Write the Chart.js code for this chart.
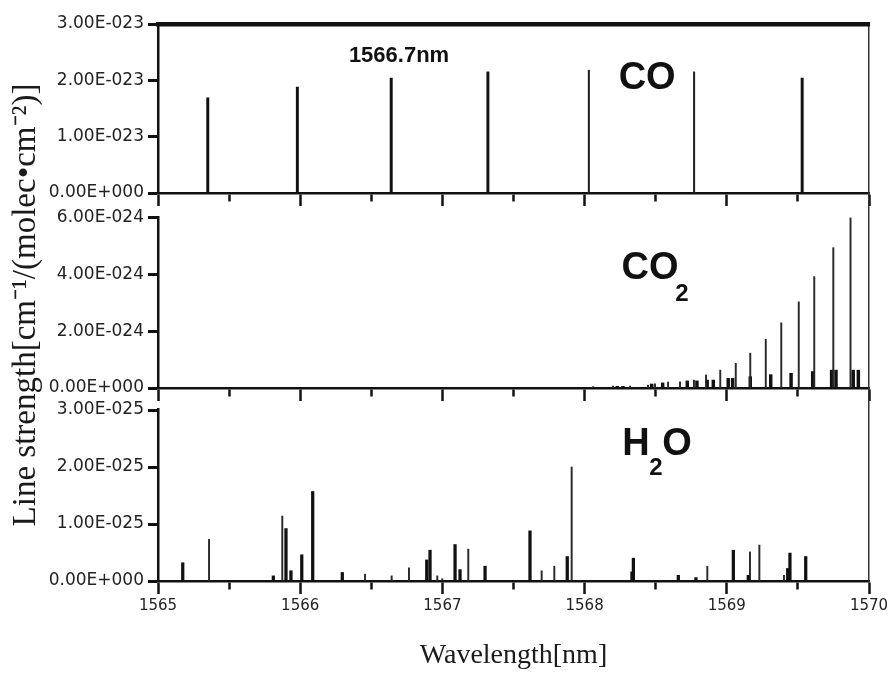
<!DOCTYPE html>
<html>
<head>
<meta charset="utf-8">
<script src="https://cdn.jsdelivr.net/npm/chart.js@4.4.1/dist/chart.umd.min.js"></script>
<style>
  body { margin: 0; background: #fff; }
  #wrap { position: relative; width: 892px; height: 673px; }
  #wrap canvas { position: absolute; left: 0; top: 0; }
</style>
</head>
<body>
<div id="wrap">
  <canvas id="coChart" width="892" height="673"></canvas>
  <canvas id="co2Chart" width="892" height="673"></canvas>
  <canvas id="h2oChart" width="892" height="673"></canvas>
</div>
<script>
// x axis ticks (nm), half steps are unlabeled minor ticks
const xTicks = [1565, 1565.5, 1566, 1566.5, 1567, 1567.5, 1568, 1568.5, 1569, 1569.5, 1570];
const coTicks = [0, 1e-23, 2e-23, 3e-23];
const co2Ticks = [0, 2e-24, 4e-24, 6e-24];
const h2oTicks = [0, 1e-25, 2e-25, 3e-25];

// CO lines
const coWavelength = [1565.35, 1565.98, 1566.64, 1567.32, 1569.53];
const coStrength = [1.69e-23, 1.88e-23, 2.04e-23, 2.15e-23, 2.04e-23];
const coWavelengthFine = [1568.03, 1568.77];
const coStrengthFine = [2.18e-23, 2.15e-23];

// CO2 lines: main progression + weak band lines
const co2Wavelength = [1568.06, 1568.20, 1568.32, 1568.446, 1568.495, 1568.587, 1568.671, 1568.769, 1568.854,
  1568.954, 1569.063, 1569.165, 1569.274, 1569.383, 1569.506, 1569.615, 1569.749, 1569.870];
const co2Strength = [0.05e-24, 0.07e-24, 0.07e-24, 0.10e-24, 0.15e-24, 0.21e-24, 0.22e-24, 0.28e-24, 0.46e-24,
  0.63e-24, 0.87e-24, 1.23e-24, 1.72e-24, 2.30e-24, 3.04e-24, 3.93e-24, 4.95e-24, 6.00e-24];
const co2WavelengthBand = [1568.23, 1568.27, 1568.472, 1568.549, 1568.722, 1568.79, 1568.862, 1568.905, 1569.010,
  1569.041, 1569.165, 1569.309, 1569.452, 1569.604, 1569.737, 1569.768, 1569.889, 1569.925];
const co2StrengthBand = [0.06e-24, 0.06e-24, 0.14e-24, 0.18e-24, 0.25e-24, 0.25e-24, 0.28e-24, 0.28e-24, 0.34e-24,
  0.34e-24, 0.40e-24, 0.47e-24, 0.52e-24, 0.58e-24, 0.63e-24, 0.63e-24, 0.63e-24, 0.63e-24];

// H2O lines
const h2oWavelength = [1565.174, 1565.811, 1565.900, 1565.935, 1566.011, 1566.088, 1566.296, 1566.890, 1566.913,
  1567.089, 1567.124, 1567.300, 1567.616, 1567.878, 1568.333, 1568.343, 1568.659, 1568.783, 1569.046, 1569.151,
  1569.428, 1569.444, 1569.555];
const h2oStrength = [0.32e-25, 0.09e-25, 0.92e-25, 0.18e-25, 0.46e-25, 1.57e-25, 0.15e-25, 0.37e-25, 0.54e-25,
  0.64e-25, 0.20e-25, 0.26e-25, 0.88e-25, 0.43e-25, 0.16e-25, 0.40e-25, 0.10e-25, 0.06e-25, 0.54e-25, 0.10e-25,
  0.22e-25, 0.49e-25, 0.43e-25];
const h2oWavelengthFine = [1565.359, 1565.874, 1566.456, 1566.643, 1566.765, 1566.964, 1566.999, 1567.182,
  1567.698, 1567.787, 1567.909, 1568.863, 1569.163, 1569.229, 1569.402];
const h2oStrengthFine = [0.73e-25, 1.14e-25, 0.12e-25, 0.09e-25, 0.23e-25, 0.09e-25, 0.04e-25, 0.56e-25,
  0.18e-25, 0.26e-25, 2.00e-25, 0.26e-25, 0.51e-25, 0.63e-25, 0.10e-25];

const yTickFont = { family: '"DejaVu Sans"', size: 17 };
const xTickFont = { family: '"DejaVu Sans"', size: 15 };

function sci(v) {
  const parts = Number(v).toExponential(2).split('e');
  const n = parseInt(parts[1], 10);
  return parts[0] + 'E' + (n < 0 ? '-' : '+') + String(Math.abs(n)).padStart(3, '0');
}

function lines(wl, s, thickness, color) {
  return {
    data: wl.map((w, i) => ({ x: w, y: s[i] })),
    barThickness: thickness,
    backgroundColor: color,
    borderWidth: 0,
    grouped: false
  };
}

// labels inside panels, y title, and trimming the left axis line above the top tick
const panelText = {
  id: 'panelText',
  afterDraw(chart, args, opts) {
    const ctx = chart.ctx;
    const x = chart.scales.x, y = chart.scales.y;
    ctx.save();
    if (opts.axisFrom != null) {
      const top = chart.chartArea.top;
      const yv = y.getPixelForValue(opts.axisFrom);
      ctx.clearRect(chart.chartArea.left - 3, top - 3, 6, yv - top + 1);
    }
    ctx.fillStyle = '#111';
    ctx.textAlign = 'center';
    ctx.textBaseline = 'middle';
    (opts.items || []).forEach(it => {
      ctx.font = it.font;
      ctx.fillText(it.text, x.getPixelForValue(it.x), y.getPixelForValue(it.y));
    });
    if (opts.yTitle) {
      ctx.translate(opts.yTitle.x, opts.yTitle.y);
      ctx.rotate(-Math.PI / 2);
      ctx.font = '33px "Liberation Serif"';
      ctx.fillStyle = '#1a1a1a';
      ctx.fillText(opts.yTitle.text, 0, 0);
    }
    ctx.restore();
  }
};

function xAxis(showLabels) {
  return {
    type: 'linear', position: 'bottom', min: 1565, max: 1570, offset: false,
    afterBuildTicks: a => { a.ticks = xTicks.map(v => ({ value: v })); },
    afterFit: a => { a.height = showLabels ? 92 : 14; },
    border: { color: '#111', width: 2.5 },
    grid: {
      offset: false, drawOnChartArea: false, drawTicks: true, tickLength: 13, tickWidth: 2.5, tickColor: '#111',
      tickBorderDash: c => (c.tick && !Number.isInteger(c.tick.value)) ? [7, 40] : []
    },
    ticks: {
      display: showLabels, autoSkip: false, maxRotation: 0, padding: 3, color: '#222', font: xTickFont,
      callback: v => Number.isInteger(v) ? String(v) : ''
    },
    title: {
      display: showLabels, text: 'Wavelength[nm]', color: '#1a1a1a',
      font: { family: '"Liberation Serif"', size: 28 }, padding: { top: 0, bottom: 1 }
    }
  };
}

function yAxis(max, tickList) {
  return {
    type: 'linear', position: 'left', min: 0, max: max,
    afterBuildTicks: a => { a.ticks = tickList.map(v => ({ value: v })); },
    afterFit: a => { a.width = 158; },
    border: { color: '#111', width: 2.5 },
    grid: { drawOnChartArea: false, tickLength: 10, tickWidth: 3, tickColor: '#111' },
    ticks: { padding: 4, color: '#222', font: yTickFont, callback: v => sci(v) }
  };
}

const rightEdge = {
  type: 'linear', position: 'right', min: 0, max: 1,
  afterFit: a => { a.width = 0; },
  border: { color: '#333', width: 1.5 },
  grid: { display: false },
  ticks: { display: false }
};

function panel(id, cfg) {
  const scales = { x: xAxis(cfg.showLabels), y: yAxis(cfg.max, cfg.ticks), yRight: rightEdge };
  if (cfg.frameTop) {
    scales.xTop = {
      type: 'linear', position: 'top', min: 1565, max: 1570,
      afterFit: a => { a.height = 0; },
      border: { color: '#111', width: 4.5 },
      grid: { display: false },
      ticks: { display: false }
    };
  }
  return new Chart(document.getElementById(id), {
    type: 'bar',
    data: { datasets: cfg.datasets },
    options: {
      responsive: false,
      animation: false,
      devicePixelRatio: 1,
      layout: { padding: { left: 0, right: 23, top: cfg.top, bottom: cfg.bottom } },
      plugins: {
        legend: { display: false },
        tooltip: { enabled: false },
        panelText: { items: cfg.labels, yTitle: cfg.yTitle, axisFrom: cfg.axisFrom }
      },
      scales: scales
    },
    plugins: [panelText]
  });
}

panel('coChart', {
  top: 24, bottom: 466, max: 3e-23, ticks: coTicks, frameTop: true, showLabels: false,
  datasets: [
    lines(coWavelength, coStrength, 2.3, '#111'),
    lines(coWavelengthFine, coStrengthFine, 1.4, '#222')
  ],
  labels: [
    { text: '1566.7nm', x: 1566.695, y: 2.43e-23, font: 'bold 22px "Liberation Sans"' },
    { text: 'CO', x: 1568.44, y: 2.04e-23, font: 'bold 38px "Liberation Sans"' }
  ]
});

panel('co2Chart', {
  top: 193, bottom: 271, max: 6.88e-24, ticks: co2Ticks, showLabels: false, axisFrom: 6e-24,
  datasets: [
    lines(co2Wavelength, co2Strength, 1.3, '#2a2a2a'),
    lines(co2WavelengthBand, co2StrengthBand, 2.8, '#111')
  ],
  labels: [
    { text: 'CO', x: 1568.46, y: 4.2e-24, font: 'bold 38px "Liberation Sans"' },
    { text: '2', x: 1568.685, y: 3.32e-24, font: 'bold 24px "Liberation Sans"' }
  ]
});

panel('h2oChart', {
  top: 388, bottom: 0, max: 3.386e-25, ticks: h2oTicks, showLabels: true, axisFrom: 3e-25,
  datasets: [
    lines(h2oWavelength, h2oStrength, 2.6, '#111'),
    lines(h2oWavelengthFine, h2oStrengthFine, 1.3, '#2a2a2a')
  ],
  labels: [
    { text: 'H', x: 1568.361, y: 2.40e-25, font: 'bold 38px "Liberation Sans"' },
    { text: '2', x: 1568.502, y: 1.98e-25, font: 'bold 24px "Liberation Sans"' },
    { text: 'O', x: 1568.65, y: 2.40e-25, font: 'bold 38px "Liberation Sans"' }
  ],
  yTitle: { text: 'Line strength[cm\u207B\u00B9/(molec\u2022cm\u207B\u00B2)]', x: 26, y: 305 }
});
</script>
</body>
</html>
